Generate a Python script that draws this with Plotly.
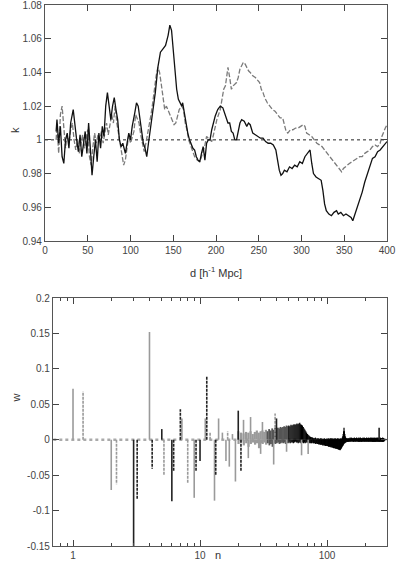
import plotly.graph_objects as go


# ---- top panel: k against d ----
d_solid = [13, 14, 16, 18, 20, 22, 24, 26, 28, 30, 33, 35, 37, 39, 41, 43, 45, 47, 49, 51,
           53, 55, 57, 59, 61, 63, 65, 67, 69, 71, 73, 75, 77, 79, 81, 83, 85, 87, 89, 91,
           94, 96, 98, 100, 102, 105, 107, 109, 111, 113, 115, 117, 119, 121, 123, 126, 129, 132, 135, 138,
           141, 144, 146, 148, 150, 152, 154, 156, 158, 160, 161, 163, 165, 167, 169, 171, 173, 175, 177, 179,
           181, 183, 185, 187, 189, 191, 193, 195, 197, 199, 202, 205, 208, 211, 214, 216, 218, 220, 222, 224,
           226, 228, 230, 233, 236, 238, 240, 243, 246, 249, 252, 255, 258, 261, 264, 267, 270, 272, 274, 276,
           278, 280, 283, 286, 289, 292, 295, 298, 301, 304, 307, 310, 312, 314, 317, 320, 323, 325, 327, 329,
           332, 335, 338, 341, 343, 346, 349, 352, 355, 358, 360, 362, 365, 368, 371, 374, 377, 380, 383, 386,
           389, 392, 395, 398, 400]
k_solid = [1.005, 1.012, 0.998, 1.008, 0.990, 0.986, 1.000, 1.004, 0.995, 1.010, 1.018, 1.008, 1.000, 0.993, 1.003, 0.990, 0.997, 1.005, 0.992, 1.010,
           0.995, 0.979, 0.990, 1.000, 0.987, 1.004, 0.995, 1.008, 1.002, 1.020, 1.028, 1.018, 1.012, 1.020, 1.025, 1.018, 1.012, 1.000, 0.996, 0.998,
           0.992, 0.998, 1.004, 1.000, 1.008, 1.016, 1.022, 1.020, 1.012, 1.005, 0.998, 0.995, 0.990, 0.998, 1.005, 1.015, 1.028, 1.043, 1.052, 1.054,
           1.056, 1.062, 1.068, 1.065, 1.052, 1.040, 1.030, 1.024, 1.022, 1.020, 1.022, 1.015, 1.010, 1.004, 1.000, 0.998, 0.995, 0.994, 0.990, 0.988,
           0.987, 0.992, 0.996, 0.988, 0.998, 1.000, 1.000, 1.006, 1.010, 1.014, 1.018, 1.020, 1.019, 1.014, 1.010, 1.010, 1.005, 1.004, 1.000, 1.000,
           1.006, 1.010, 1.012, 1.011, 1.008, 1.010, 1.009, 1.004, 1.003, 1.002, 1.001, 1.001, 0.999, 0.998, 0.998, 0.997, 0.994, 0.988, 0.982, 0.979,
           0.980, 0.982, 0.981, 0.984, 0.983, 0.985, 0.984, 0.987, 0.986, 0.990, 0.992, 0.994, 0.986, 0.980, 0.978, 0.977, 0.976, 0.970, 0.962, 0.958,
           0.956, 0.955, 0.957, 0.958, 0.956, 0.957, 0.955, 0.956, 0.955, 0.954, 0.952, 0.955, 0.960, 0.965, 0.969, 0.975, 0.980, 0.985, 0.989, 0.990,
           0.993, 0.994, 0.996, 0.998, 0.999]

d_dashed = [13, 14, 16, 18, 20, 22, 24, 26, 28, 30, 32, 34, 36, 38, 40, 42, 44, 46, 48, 50,
            52, 54, 56, 58, 60, 62, 64, 66, 68, 70, 72, 74, 76, 78, 80, 82, 84, 86, 88, 90,
            92, 94, 96, 98, 100, 102, 104, 106, 108, 110, 112, 114, 116, 118, 120, 122, 124, 126, 128, 130,
            132, 134, 136, 138, 140, 142, 145, 148, 151, 153, 155, 157, 160, 162, 164, 166, 168, 170, 172, 175,
            178, 181, 183, 185, 187, 189, 191, 193, 195, 197, 199, 201, 203, 205, 207, 209, 211, 213, 214, 216,
            218, 220, 222, 224, 226, 228, 230, 232, 234, 236, 238, 240, 243, 246, 249, 251, 253, 255, 257, 260,
            263, 266, 269, 272, 275, 278, 280, 282, 284, 287, 290, 293, 296, 299, 302, 304, 306, 309, 312, 315,
            318, 321, 324, 327, 330, 333, 336, 339, 342, 345, 347, 349, 351, 353, 356, 359, 362, 365, 368, 371,
            374, 377, 380, 383, 386, 389, 392, 394, 396, 398, 400]
k_dashed = [1.000, 1.008, 0.992, 1.015, 1.020, 1.005, 0.995, 1.003, 0.998, 1.006, 1.010, 1.000, 0.994, 1.000, 0.992, 0.998, 1.003, 0.995, 1.000, 1.006,
            0.990, 0.985, 0.996, 1.004, 0.998, 1.003, 1.000, 1.005, 0.998, 1.004, 1.010, 1.003, 1.008, 1.015, 1.010, 1.020, 1.010, 1.004, 0.998, 0.990,
            0.985, 0.988, 0.997, 1.003, 0.998, 1.002, 1.005, 1.015, 1.012, 1.010, 1.003, 0.997, 0.993, 0.998, 1.003, 1.008, 1.015, 1.022, 1.032, 1.038,
            1.043, 1.040, 1.033, 1.025, 1.018, 1.020, 1.016, 1.012, 1.009, 1.010, 1.014, 1.018, 1.020, 1.018, 1.010, 1.006, 1.000, 0.997, 0.995, 0.990,
            0.988, 0.987, 0.990, 0.993, 0.997, 1.002, 1.001, 1.000, 0.999, 1.003, 1.008, 1.012, 1.015, 1.018, 1.024, 1.030, 1.032, 1.040, 1.043, 1.037,
            1.030, 1.032, 1.033, 1.034, 1.037, 1.042, 1.044, 1.046, 1.045, 1.043, 1.041, 1.040, 1.038, 1.037, 1.035, 1.034, 1.030, 1.028, 1.025, 1.022,
            1.020, 1.018, 1.017, 1.015, 1.013, 1.013, 1.008, 1.005, 1.004, 1.006, 1.006, 1.007, 1.007, 1.008, 1.009, 1.008, 1.004, 1.003, 1.002, 1.000,
            0.998, 0.997, 0.996, 0.994, 0.992, 0.990, 0.988, 0.986, 0.984, 0.982, 0.981, 0.983, 0.984, 0.985, 0.986, 0.987, 0.988, 0.989, 0.990, 0.990,
            0.992, 0.993, 0.994, 0.996, 0.997, 0.996, 0.998, 1.002, 1.005, 1.007, 1.009]

d_ticks = [0, 50, 100, 150, 200, 250, 300, 350, 400]
k_ticks = [0.94, 0.96, 0.98, 1, 1.02, 1.04, 1.06, 1.08]
k_labels = ["0.94", "0.96", "0.98", "1", "1.02", "1.04", "1.06", "1.08"]

# ---- bottom panel: w against n (impulses) ----
grey_solid_n = [1, 2, 4, 7.2, 9, 11, 13, 14, 15, 16, 17, 18, 19, 22, 24, 25, 30, 31, 38, 48, 63, 71]
grey_solid_w = [0.072, -0.071, 0.152, 0.030, -0.082, 0.030, -0.086, 0.030, 0.010, -0.030, -0.038, 0.008, -0.059, 0.028, -0.026, 0.032, -0.020, 0.025, -0.035, -0.017, -0.022, -0.020]

grey_dash_n = [1.2, 2.2, 5.2, 8, 12, 16.5, 39]
grey_dash_w = [0.068, -0.063, -0.050, -0.062, 0.010, 0.012, 0.037]

black_solid_n = [3, 5, 6, 10, 20, 40, 257]
black_solid_w = [-0.155, 0.015, -0.087, -0.030, 0.041, 0.030, 0.017]

black_dash_n = [3.2, 4.2, 6.2, 7, 9.3, 11.3, 13.3, 21]
black_dash_w = [-0.084, -0.041, -0.045, 0.043, -0.045, 0.090, -0.050, -0.045]

# dense tail, one value per integer n from 20 to 280 (upper and lower side)
dense_n = list(range(20, 281))
dense_up = [0.012, 0.010, 0.009, 0.011, 0.010, 0.012, 0.008, 0.011, 0.013, 0.010,
            0.012, 0.013, 0.011, 0.014, 0.012, 0.015, 0.013, 0.016, 0.014, 0.017,
            0.015, 0.017, 0.016, 0.018, 0.017, 0.018, 0.019, 0.018, 0.020, 0.019,
            0.020, 0.019, 0.021, 0.020, 0.021, 0.022, 0.021, 0.022, 0.023, 0.022,
            0.023, 0.024, 0.022, 0.021, 0.020, 0.018, 0.016, 0.014, 0.012, 0.010,
            0.008, 0.007, 0.006, 0.005, 0.004, 0.004, 0.003, 0.003, 0.002, 0.002,
            0.002, 0.003, 0.002, 0.001, 0.002, 0.001, 0.002, 0.001, 0.001, 0.002,
            0.001, 0.002, 0.001, 0.001, 0.001, 0.002, 0.001, 0.001, 0.001, 0.001,
            0.002, 0.001, 0.001, 0.002, 0.001, 0.001, 0.002, 0.001, 0.002, 0.001,
            0.001, 0.002, 0.001, 0.001, 0.002, 0.001, 0.001, 0.002, 0.001, 0.001,
            0.001, 0.002, 0.001, 0.001, 0.002, 0.001, 0.001, 0.001, 0.002, 0.001,
            0.001, 0.002, 0.003, 0.005, 0.008, 0.012, 0.017, 0.012, 0.008, 0.005,
            0.003, 0.002, 0.002, 0.001, 0.002, 0.001, 0.002, 0.001, 0.002, 0.001,
            0.002, 0.001, 0.003, 0.002, 0.001, 0.002, 0.003, 0.001, 0.002, 0.002,
            0.001, 0.002, 0.002, 0.001, 0.003, 0.002, 0.001, 0.002, 0.002, 0.001,
            0.002, 0.003, 0.001, 0.002, 0.001, 0.002, 0.002, 0.001, 0.003, 0.002,
            0.001, 0.002, 0.002, 0.003, 0.001, 0.002, 0.001, 0.002, 0.002, 0.001,
            0.002, 0.001, 0.003, 0.002, 0.002, 0.001, 0.002, 0.003, 0.001, 0.002,
            0.002, 0.001, 0.002, 0.002, 0.001, 0.003, 0.002, 0.001, 0.002, 0.002,
            0.001, 0.002, 0.003, 0.002, 0.001, 0.002, 0.002, 0.001, 0.002, 0.003,
            0.002, 0.001, 0.002, 0.002, 0.003, 0.001, 0.002, 0.002, 0.001, 0.002,
            0.003, 0.002, 0.001, 0.002, 0.002, 0.001, 0.003, 0.002, 0.002, 0.001,
            0.002, 0.002, 0.001, 0.003, 0.002, 0.002, 0.001, 0.002, 0.002, 0.003,
            0.002, 0.001, 0.002, 0.002, 0.001, 0.002, 0.003, 0.002, 0.002, 0.001,
            0.002, 0.002, 0.003, 0.001, 0.002, 0.002, 0.001, 0.002, 0.002, 0.002,
            0.001, 0.002, 0.002, 0.001, 0.003, 0.002, 0.001, 0.002, 0.002, 0.001,
            0.002]
dense_down = [-0.006, -0.004, -0.008, -0.005, -0.010, -0.006, -0.004, -0.007, -0.005, -0.012,
              -0.005, -0.006, -0.004, -0.007, -0.005, -0.008, -0.006, -0.010, -0.005, -0.006,
              -0.005, -0.004, -0.006, -0.005, -0.004, -0.005, -0.004, -0.006, -0.004, -0.005,
              -0.004, -0.005, -0.004, -0.004, -0.005, -0.004, -0.003, -0.004, -0.004, -0.005,
              -0.004, -0.004, -0.005, -0.004, -0.004, -0.005, -0.004, -0.005, -0.004, -0.004,
              -0.004, -0.004, -0.005, -0.004, -0.005, -0.005, -0.004, -0.005, -0.005, -0.005,
              -0.005, -0.006, -0.005, -0.006, -0.006, -0.006, -0.007, -0.006, -0.007, -0.007,
              -0.007, -0.007, -0.008, -0.007, -0.008, -0.008, -0.008, -0.009, -0.008, -0.009,
              -0.009, -0.009, -0.010, -0.009, -0.010, -0.010, -0.010, -0.011, -0.010, -0.011,
              -0.011, -0.011, -0.012, -0.011, -0.012, -0.012, -0.012, -0.013, -0.012, -0.013,
              -0.013, -0.013, -0.014, -0.013, -0.014, -0.014, -0.015, -0.014, -0.013, -0.012,
              -0.011, -0.010, -0.009, -0.008, -0.007, -0.006, -0.005, -0.005, -0.004, -0.004,
              -0.004, -0.003, -0.003, -0.003, -0.003, -0.003, -0.002, -0.003, -0.002, -0.002,
              -0.003, -0.002, -0.002, -0.003, -0.002, -0.002, -0.002, -0.003, -0.002, -0.002,
              -0.002, -0.003, -0.002, -0.002, -0.002, -0.003, -0.002, -0.002, -0.003, -0.002,
              -0.002, -0.002, -0.003, -0.002, -0.002, -0.002, -0.003, -0.002, -0.002, -0.003,
              -0.002, -0.002, -0.002, -0.003, -0.002, -0.002, -0.003, -0.002, -0.002, -0.002,
              -0.003, -0.002, -0.002, -0.002, -0.003, -0.002, -0.002, -0.003, -0.002, -0.002,
              -0.002, -0.003, -0.002, -0.002, -0.002, -0.003, -0.002, -0.002, -0.002, -0.003,
              -0.002, -0.002, -0.003, -0.002, -0.002, -0.002, -0.003, -0.002, -0.002, -0.002,
              -0.003, -0.002, -0.002, -0.002, -0.003, -0.002, -0.002, -0.003, -0.002, -0.002,
              -0.002, -0.003, -0.002, -0.002, -0.002, -0.003, -0.002, -0.002, -0.002, -0.003,
              -0.002, -0.002, -0.003, -0.002, -0.002, -0.002, -0.003, -0.002, -0.002, -0.002,
              -0.003, -0.002, -0.002, -0.002, -0.003, -0.002, -0.002, -0.003, -0.002, -0.002,
              -0.002, -0.003, -0.002, -0.002, -0.002, -0.003, -0.002, -0.002, -0.002, -0.003,
              -0.002, -0.002, -0.003, -0.002, -0.002, -0.002, -0.003, -0.002, -0.002, -0.002,
              -0.002]

w_ticks = [-0.15, -0.1, -0.05, 0, 0.05, 0.1, 0.15, 0.2]
w_labels = ["-0.15", "-0.1", "-0.05", "0", "0.05", "0.1", "0.15", "0.2"]
n_ticks = [1, 10, 100]
n_minor = [0.8, 0.9, 2, 3, 4, 5, 6, 7, 8, 9, 20, 30, 40, 50, 60, 70, 80, 90, 200]

W, H = 398, 569
FONT = "Liberation Sans, Arial, sans-serif"


def stems(ns, ws, shift=0.0):
    """Turn (n, w) pairs into vertical impulse segments from zero."""
    xs, ys = [], []
    for n, w in zip(ns, ws):
        xs += [n * (1 + shift), n * (1 + shift), None]
        ys += [0, w, None]
    return xs, ys


def add_stems(fig, ns, ws, color, dash, width, shift=0.0):
    xs, ys = stems(ns, ws, shift)
    fig.add_trace(go.Scatter(x=xs, y=ys, mode="lines", xaxis="x2", yaxis="y2",
                             line=dict(color=color, dash=dash, width=width),
                             hoverinfo="skip", showlegend=False))


def main():
    fig = go.Figure()

    # top panel
    fig.add_trace(go.Scatter(x=[0, 400], y=[1, 1], mode="lines",
                             line=dict(color="#222", dash="3px,3px", width=1), showlegend=False))
    fig.add_trace(go.Scatter(x=d_dashed, y=k_dashed, mode="lines",
                             line=dict(color="#7a7a7a", dash="5px,2px", width=1.3), showlegend=False))
    fig.add_trace(go.Scatter(x=d_solid, y=k_solid, mode="lines",
                             line=dict(color="#111", width=1.3), showlegend=False))

    # bottom panel: zero line first
    fig.add_trace(go.Scatter(x=[0.7, 300], y=[0, 0], mode="lines", xaxis="x2", yaxis="y2",
                             line=dict(color="#aaa", dash="3px,3px", width=2.5), showlegend=False))

    # dense tail split by shade, wider strokes where bars are further apart
    for lo, hi, col, lw in [(20, 34, "#9a9a9a", 2.2), (34, 50, "#555", 1.8), (50, 281, "#000", 1.2)]:
        ns = [n for n in dense_n if lo <= n < hi]
        ups = [w for n, w in zip(dense_n, dense_up) if lo <= n < hi]
        downs = [w for n, w in zip(dense_n, dense_down) if lo <= n < hi]
        add_stems(fig, ns, ups, col, "solid", lw)
        add_stems(fig, ns, downs, col, "solid", lw, shift=0.005)

    add_stems(fig, grey_solid_n, grey_solid_w, "#9a9a9a", "solid", 1.6)
    add_stems(fig, grey_dash_n, grey_dash_w, "#9a9a9a", "3px,1px", 1.6)
    add_stems(fig, black_solid_n, black_solid_w, "#222", "solid", 1.6)
    add_stems(fig, black_dash_n, black_dash_w, "#222", "3px,1px", 1.6)

    axis_common = dict(showline=True, linecolor="#555", linewidth=1.2, mirror="ticks",
                       ticks="inside", ticklen=6, tickcolor="#444", tickwidth=1.2,
                       showgrid=False, zeroline=False, automargin=False,
                       ticklabeloverflow="allow",
                       tickfont=dict(family=FONT, size=10, color="#444"))

    fig.update_layout(
        template="none",
        width=W, height=H,
        margin=dict(l=0, r=0, t=0, b=0, pad=0),
        paper_bgcolor="white", plot_bgcolor="white",
        xaxis=dict(domain=[45 / W, 387 / W], range=[0, 400], tickvals=d_ticks, anchor="y",
                   **axis_common),
        yaxis=dict(domain=[1 - 241 / H, 1 - 5 / H], range=[0.94, 1.08], tickvals=k_ticks,
                   ticktext=k_labels, anchor="x", **axis_common),
        xaxis2=dict(domain=[53 / W, 387 / W], type="log", range=[-0.1575, 2.472],
                    tickvals=n_ticks, ticktext=["1", "10", "100"], anchor="y2",
                    minor=dict(tickvals=n_minor, ticks="inside", ticklen=3, tickcolor="#444"),
                    **axis_common),
        yaxis2=dict(domain=[1 - 546 / H, 1 - 298 / H], range=[-0.15, 0.2], tickvals=w_ticks,
                    ticktext=w_labels, anchor="x2", **axis_common),
    )

    # axis titles placed as annotations
    title_font = dict(family=FONT, size=11, color="#333")
    fig.add_annotation(text="k", x=7 / W, y=1 - 125 / H, xref="paper", yref="paper",
                       showarrow=False, textangle=-90, font=title_font)
    fig.add_annotation(text="d [h<sup>-1</sup> Mpc]", x=216 / W, y=1 - 272 / H, xref="paper",
                       yref="paper", showarrow=False, font=title_font)
    fig.add_annotation(text="w", x=7 / W, y=1 - 405 / H, xref="paper", yref="paper",
                       showarrow=False, textangle=-90, font=title_font)
    fig.add_annotation(text="n", x=218 / W, y=1 - 563 / H, xref="paper", yref="paper",
                       showarrow=False, font=title_font)

    # the page body has a default margin; drop it so the figure sits at the window corner
    fig.write_html("out.html", config={"displayModeBar": False},
                   post_script="document.body.style.margin='0';document.body.style.overflow='hidden';")


if __name__ == "__main__":

    main()
